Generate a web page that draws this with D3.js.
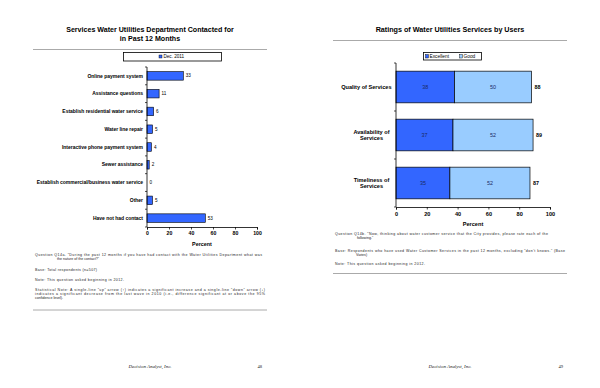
<!DOCTYPE html>
<html><head><meta charset="utf-8">
<script src="https://cdn.jsdelivr.net/npm/d3@7"></script>
<style>body{margin:0;background:#fff}svg{display:block}text{font-family:"Liberation Sans",Arial,sans-serif}</style>
</head><body><svg id="c" width="600" height="388"></svg>
<script>
// ---- data ----
const contactCategories = ["Online payment system","Assistance questions","Establish residential water service","Water line repair","Interactive phone payment system","Sewer assistance","Establish commercial/business water service","Other","Have not had contact"];
const contactValues = [33, 11, 6, 5, 4, 2, 0, 5, 53];
const contactSeries = "Dec. 2011";
const ratingCategories = [["Quality of Services"],["Availability of","Services"],["Timeliness of","Services"]];
const excellentValues = [38, 37, 35];
const goodValues = [50, 52, 52];
const ratingSeries = ["Excellent","Good"];
const xTicks = [0, 20, 40, 60, 80, 100];

const svg = d3.select("#c");
const DARK = "#3366ff", LIGHT = "#99ccff";

function rule(x1,x2,y){svg.append("line").attr("x1",x1).attr("x2",x2).attr("y1",y).attr("y2",y).attr("stroke","#aaa").attr("stroke-width",1);}
function txt(x,y,s,o={}){const t=svg.append("text").attr("x",x).attr("y",y).attr("font-size",o.size||3.6).attr("fill",o.fill||"#222").attr("text-anchor",o.anchor||"start").text(s);
 if(o.bold)t.attr("font-weight","bold"); if(o.italic)t.attr("font-style","italic"); if(o.family)t.style("font-family",o.family);
 if(o.len)t.attr("textLength",o.len).attr("lengthAdjust","spacing"); return t;}

// ===== LEFT CHART =====
txt(150,31.5,"Services Water Utilities Department Contacted for",{size:7.1,bold:true,anchor:"middle",fill:"#000"});
txt(150,40.5,"in Past 12 Months",{size:7.1,bold:true,anchor:"middle",fill:"#000"});
rule(33,267,49.5);

const xL = d3.scaleLinear().domain([0,100]).range([147,257]);
const yL = d3.scaleBand().domain(contactCategories).range([67,227]).paddingInner(0.52).paddingOuter(0.26);

// legend
svg.append("rect").attr("x",123.5).attr("y",52.5).attr("width",98).attr("height",8.5).attr("fill","#fff").attr("stroke","#000").attr("stroke-width",0.8);
svg.append("rect").attr("x",159).attr("y",55).attr("width",3).attr("height",3).attr("fill",DARK).attr("stroke","#000").attr("stroke-width",0.4);
txt(163.5,58.4,contactSeries,{size:4.6,fill:"#000"});

const gL = svg.append("g");
gL.selectAll("rect.b").data(contactCategories).join("rect").attr("class","b")
 .attr("x",xL(0)).attr("y",d=>yL(d)).attr("width",(d,i)=>xL(contactValues[i])-xL(0)).attr("height",yL.bandwidth())
 .attr("fill",DARK).attr("stroke","#000").attr("stroke-width",0.6);
gL.selectAll("text.v").data(contactCategories).join("text").attr("class","v")
 .attr("x",(d,i)=>xL(contactValues[i])+2.5).attr("y",d=>yL(d)+yL.bandwidth()/2+1.6)
 .attr("font-size",4.6).attr("fill","#000").text((d,i)=>contactValues[i]);
gL.selectAll("text.c").data(contactCategories).join("text").attr("class","c")
 .attr("x",143).attr("y",d=>yL(d)+yL.bandwidth()/2+1.7).attr("text-anchor","end")
 .attr("font-size",5.0).attr("font-weight","bold").attr("fill","#000").attr("letter-spacing",-0.03).text(d=>d);
gL.append("line").attr("x1",147).attr("x2",147).attr("y1",67).attr("y2",227).attr("stroke","#000").attr("stroke-width",0.8);
d3.range(contactCategories.length+1).forEach(i=>{const y=67+i*(160/contactCategories.length);
 gL.append("line").attr("x1",145).attr("x2",147).attr("y1",y).attr("y2",y).attr("stroke","#000").attr("stroke-width",0.7);});
const axL = gL.append("g").attr("transform","translate(0,227)").call(d3.axisBottom(xL).tickValues(xTicks).tickSize(2.5).tickPadding(2));
axL.select(".domain").attr("stroke-width",0.8);
axL.selectAll("line").attr("stroke-width",0.7);
axL.selectAll("text").attr("font-size",5.2).attr("font-weight","bold").attr("fill","#000").style("font-family","Liberation Sans, Arial");
txt(202,245.5,"Percent",{size:5.4,bold:true,anchor:"middle",fill:"#000"});

// notes left  [x, y, text, width or null]
const nL=[[35,256,"Question Q14a. \u201cDuring the past 12 months if you have had contact with the Water Utilities Department what was",227],
 [57,260,"the nature of the contact?\u201d",null],
 [35,270.5,"Base: Total respondents (n=507)",62],
 [35,280.5,"Note: This question asked beginning in 2012.",89],
 [35,291,"Statistical Note: A single-line \u201cup\u201d arrow (\u2191) indicates a significant increase and a single-line \u201cdown\u201d arrow (\u2193)",230],
 [35,295,"indicates a significant decrease from the last wave in 2010 (i.e., difference significant at or above the 95%",230],
 [35,299,"confidence level).",null]];
nL.forEach(d=>txt(d[0],d[1],d[2],{size:3.6,len:d[3]}));
rule(33,267,310);
txt(150,368,"Decision Analyst, Inc.",{size:4.9,italic:true,anchor:"middle",family:"Liberation Serif, Times New Roman, serif"});
txt(262,368,"48",{size:4.6,anchor:"end",family:"Liberation Serif, serif"});

// ===== RIGHT CHART =====
txt(450,31.8,"Ratings of Water Utilities Services by Users",{size:7.2,bold:true,anchor:"middle",fill:"#000"});
rule(333,567,40.5);

const xR = d3.scaleLinear().domain([0,100]).range([396,550]);
const yR = d3.scaleBand().domain(d3.range(ratingCategories.length)).range([63,207]).paddingInner(0.34).paddingOuter(0.17);

svg.append("rect").attr("x",423.5).attr("y",52.5).attr("width",58).attr("height",7.5).attr("fill","#fff").attr("stroke","#000").attr("stroke-width",0.8);
[[425.5,429.5,DARK],[459.5,463.5,LIGHT]].forEach((p,i)=>{
 svg.append("rect").attr("x",p[0]).attr("y",54.5).attr("width",3).attr("height",3.5).attr("fill",p[2]).attr("stroke","#000").attr("stroke-width",0.4);
 txt(p[1],58.2,ratingSeries[i],{size:4.8,fill:"#000"});});

const gR = svg.append("g");
const idx = d3.range(ratingCategories.length);
gR.selectAll("rect.e").data(idx).join("rect").attr("class","e")
 .attr("x",xR(0)).attr("y",i=>yR(i)).attr("width",i=>xR(excellentValues[i])-xR(0)).attr("height",yR.bandwidth())
 .attr("fill",DARK).attr("stroke","#000").attr("stroke-width",0.7);
gR.selectAll("rect.g").data(idx).join("rect").attr("class","g")
 .attr("x",i=>xR(excellentValues[i])).attr("y",i=>yR(i)).attr("width",i=>xR(excellentValues[i]+goodValues[i])-xR(excellentValues[i])).attr("height",yR.bandwidth())
 .attr("fill",LIGHT).attr("stroke","#000").attr("stroke-width",0.7);
gR.selectAll("text.e").data(idx).join("text").attr("class","e")
 .attr("x",i=>xR(excellentValues[i]/2)).attr("y",i=>yR(i)+yR.bandwidth()/2+2).attr("text-anchor","middle")
 .attr("font-size",5.4).attr("fill","#1a2a66").text(i=>excellentValues[i]);
gR.selectAll("text.g").data(idx).join("text").attr("class","g")
 .attr("x",i=>xR(excellentValues[i]+goodValues[i]/2)).attr("y",i=>yR(i)+yR.bandwidth()/2+2).attr("text-anchor","middle")
 .attr("font-size",5.4).attr("fill","#1a2a66").text(i=>goodValues[i]);
gR.selectAll("text.t").data(idx).join("text").attr("class","t")
 .attr("x",i=>xR(excellentValues[i]+goodValues[i])+3).attr("y",i=>yR(i)+yR.bandwidth()/2+2)
 .attr("font-size",5.4).attr("font-weight","bold").attr("fill","#000").text(i=>excellentValues[i]+goodValues[i]);
idx.forEach(i=>{const lines=ratingCategories[i];const cy=yR(i)+yR.bandwidth()/2;
 lines.forEach((s,j)=>txt(lines.length>1?371.5:391.5,cy+2+(j-(lines.length-1)/2)*6.5,s,{size:5.6,bold:true,anchor:lines.length>1?"middle":"end",fill:"#000"}));});
gR.append("line").attr("x1",396).attr("x2",396).attr("y1",63).attr("y2",207).attr("stroke","#000").attr("stroke-width",0.8);
d3.range(ratingCategories.length+1).forEach(i=>{const y=63+i*48;
 gR.append("line").attr("x1",394).attr("x2",396).attr("y1",y).attr("y2",y).attr("stroke","#000").attr("stroke-width",0.7);});
const axR = gR.append("g").attr("transform","translate(0,207)").call(d3.axisBottom(xR).tickValues(xTicks).tickSize(2.5).tickPadding(3));
axR.select(".domain").attr("stroke-width",0.8);
axR.selectAll("line").attr("stroke-width",0.7);
axR.selectAll("text").attr("font-size",5.6).attr("font-weight","bold").attr("fill","#000").style("font-family","Liberation Sans, Arial");
txt(473,226,"Percent",{size:5.6,bold:true,anchor:"middle",fill:"#000"});

const nR=[[335,234.5,"Question Q14b. \u201cNow, thinking about water customer service that the City provides, please rate each of the",213],
 [357,238.5,"following.\u201d",null],
 [335,251.5,"Base: Respondents who have used Water Customer Services in the past 12 months, excluding \u201cdon\u2019t knows.\u201d (Base",230],
 [356,255.5,"Varies)",null],
 [335,264.5,"Note: This question asked beginning in 2012.",90]];
nR.forEach(d=>txt(d[0],d[1],d[2],{size:3.6,len:d[3]}));
rule(333,567,273.5);
txt(450,368,"Decision Analyst, Inc.",{size:4.9,italic:true,anchor:"middle",family:"Liberation Serif, Times New Roman, serif"});
txt(563,368,"49",{size:4.6,anchor:"end",family:"Liberation Serif, serif"});
</script></body></html>
